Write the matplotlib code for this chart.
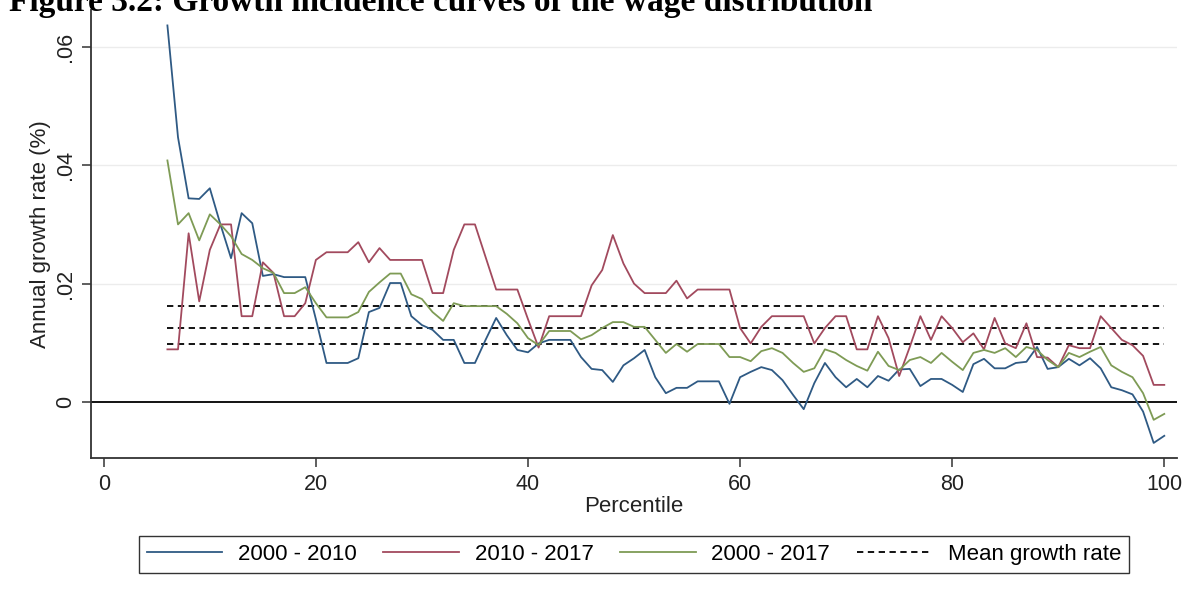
import numpy as np
import matplotlib
matplotlib.use("Agg")
import matplotlib.pyplot as plt

plt.rcParams['font.family'] = ['Liberation Sans', 'DejaVu Sans']

percentile = list(range(6, 101))

g_2000_2010 = [
    0.0636, 0.0447, 0.0344, 0.0343, 0.0361, 0.0300, 0.0243, 0.0319, 0.0302, 0.0213,
    0.0216, 0.0211, 0.0211, 0.0211, 0.0140, 0.0066, 0.0066, 0.0066, 0.0074, 0.0152,
    0.0159, 0.0201, 0.0201, 0.0145, 0.0130, 0.0122, 0.0105, 0.0105, 0.0066, 0.0066,
    0.0105, 0.0142, 0.0113, 0.0088, 0.0084, 0.0099, 0.0105, 0.0105, 0.0105, 0.0076,
    0.0056, 0.0054, 0.0034, 0.0062, 0.0074, 0.0088, 0.0042, 0.0015, 0.0024, 0.0024,
    0.0035, 0.0035, 0.0035, -0.0003, 0.0042, 0.0051, 0.0059, 0.0054, 0.0037, 0.0012,
    -0.0012, 0.0032, 0.0066, 0.0042, 0.0025, 0.0039, 0.0025, 0.0044, 0.0036, 0.0055,
    0.0056, 0.0027, 0.0039, 0.0039, 0.0029, 0.0017, 0.0064, 0.0073, 0.0057, 0.0057,
    0.0066, 0.0068, 0.0093, 0.0056, 0.0059, 0.0073, 0.0062, 0.0074, 0.0057, 0.0025,
    0.0020, 0.0013, -0.0016, -0.0069, -0.0057,
]

g_2010_2017 = [
    0.0089, 0.0089, 0.0285, 0.0170, 0.0257, 0.0300, 0.0300, 0.0145, 0.0145, 0.0236,
    0.0218, 0.0145, 0.0145, 0.0167, 0.0240, 0.0253, 0.0253, 0.0253, 0.0270, 0.0236,
    0.0260, 0.0240, 0.0240, 0.0240, 0.0240, 0.0184, 0.0184, 0.0257, 0.0300, 0.0300,
    0.0245, 0.0190, 0.0190, 0.0190, 0.0140, 0.0092, 0.0145, 0.0145, 0.0145, 0.0145,
    0.0197, 0.0223, 0.0282, 0.0234, 0.0200, 0.0184, 0.0184, 0.0184, 0.0205, 0.0175,
    0.0190, 0.0190, 0.0190, 0.0190, 0.0125, 0.0099, 0.0127, 0.0145, 0.0145, 0.0145,
    0.0145, 0.0099, 0.0125, 0.0145, 0.0145, 0.0089, 0.0089, 0.0145, 0.0108, 0.0044,
    0.0093, 0.0145, 0.0105, 0.0145, 0.0125, 0.0101, 0.0116, 0.0089, 0.0142, 0.0099,
    0.0091, 0.0133, 0.0076, 0.0075, 0.0059, 0.0096, 0.0091, 0.0091, 0.0145, 0.0125,
    0.0105, 0.0096, 0.0078, 0.0029, 0.0029,
]

g_2000_2017 = [
    0.0408, 0.0300, 0.0319, 0.0273, 0.0317, 0.0300, 0.0280, 0.0250, 0.0240, 0.0226,
    0.0218, 0.0184, 0.0184, 0.0194, 0.0167, 0.0143, 0.0143, 0.0143, 0.0152, 0.0186,
    0.0202, 0.0217, 0.0217, 0.0182, 0.0174, 0.0152, 0.0137, 0.0167, 0.0162, 0.0162,
    0.0162, 0.0162, 0.0149, 0.0133, 0.0108, 0.0096, 0.0120, 0.0120, 0.0120, 0.0106,
    0.0113, 0.0125, 0.0135, 0.0135, 0.0127, 0.0127, 0.0105, 0.0083, 0.0098, 0.0085,
    0.0098, 0.0098, 0.0098, 0.0076, 0.0076, 0.0069, 0.0086, 0.0091, 0.0083, 0.0066,
    0.0051, 0.0057, 0.0089, 0.0083, 0.0071, 0.0061, 0.0053, 0.0085, 0.0061, 0.0054,
    0.0071, 0.0076, 0.0066, 0.0083, 0.0068, 0.0054, 0.0083, 0.0088, 0.0083, 0.0091,
    0.0076, 0.0093, 0.0088, 0.0071, 0.0059, 0.0083, 0.0076, 0.0085, 0.0093, 0.0062,
    0.0051, 0.0042, 0.0015, -0.0030, -0.0020,
]

mean_rates = [0.0162, 0.0125, 0.0098]

series_labels = ['2000 - 2010', '2010 - 2017', '2000 - 2017']
series_colors = ['#2f5a84', '#a24a5e', '#7e9b55']

xticks = [0, 20, 40, 60, 80, 100]
yticks = [0, 0.02, 0.04, 0.06]
ytick_labels = ['0', '.02', '.04', '.06']

fig = plt.figure(figsize=(11.84, 6.01), dpi=100)
ax = fig.add_axes([0.0769, 0.2379, 0.9172, 0.7454])

for yv in yticks[1:]:
    ax.axhline(yv, color='#ececec', lw=1.0, zorder=0)
ax.axhline(0, color='black', lw=1.3, zorder=1)

handles = []
for vals, lab, col in zip([g_2000_2010, g_2010_2017, g_2000_2017], series_labels, series_colors):
    h, = ax.plot(percentile, vals, color=col, lw=1.3, label=lab, zorder=3)
    handles.append(h)

for m in mean_rates:
    hm, = ax.plot([percentile[0], percentile[-1]], [m, m], color='black', lw=1.3,
                  ls=(0, (3.5, 2.5)), zorder=2)
hm.set_label('Mean growth rate')
handles.append(hm)

ax.set_xlim(-1.2, 101.2)
ax.set_ylim(-0.00945, 0.0662)
ax.set_xticks(xticks)
ax.set_xticklabels([str(v) for v in xticks])
ax.set_yticks(yticks)
ax.set_yticklabels(ytick_labels, rotation=90, va='center')

for s in ['top', 'right']:
    ax.spines[s].set_visible(False)
for s in ['left', 'bottom']:
    ax.spines[s].set_color('#333333')
    ax.spines[s].set_linewidth(1.3)

ax.tick_params(axis='both', length=6.5, width=1.1, color='#333333', labelsize=15.5,
               labelcolor='#222222')
ax.tick_params(axis='x', pad=5)
ax.tick_params(axis='y', pad=4)

ax.set_xlabel('Percentile', fontsize=16, color='#222222', labelpad=1)
ax.set_ylabel('Annual growth rate (%)', fontsize=16, color='#222222', labelpad=3)

fig.legend(handles=handles, loc='center', bbox_to_anchor=(0.5355, 0.0774), ncol=4,
           fontsize=16, frameon=True, fancybox=False, edgecolor='#333333',
           framealpha=1, handlelength=3.4, handletextpad=0.7, columnspacing=1.2,
           borderpad=0.35, borderaxespad=0)

fig.text(0.008, 0.982, 'Figure 3.2: Growth incidence curves of the wage distribution',
         fontsize=24, fontweight='bold', family='Liberation Serif', va='baseline', ha='left')

fig.savefig('out.png', dpi=100)
